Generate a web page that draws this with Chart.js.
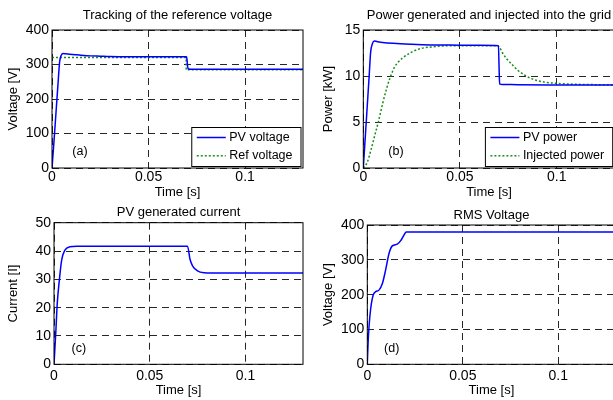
<!DOCTYPE html>
<html lang="en">
<head>
  <meta charset="UTF-8">
  <title>PV system simulation results</title>
  <script src="https://cdn.jsdelivr.net/npm/chart.js"></script>
  <style>
    body {
      margin: 0;
      background: #fff;
      overflow: hidden;
    }
    .figure {
      position: relative;
      width: 613px;
      height: 400px;
      overflow: hidden;
    }
    .figure canvas {
      position: absolute;
    }
  </style>
</head>
<body>
  <div class="figure">
    <canvas id="chartA" width="310" height="200" style="left:0;top:0"></canvas>
    <canvas id="chartB" width="320" height="200" style="left:300px;top:0"></canvas>
    <canvas id="chartC" width="310" height="200" style="left:0;top:200px"></canvas>
    <canvas id="chartD" width="320" height="200" style="left:300px;top:200px"></canvas>
  </div>

  <script>
    // time axis, shared by the four panels
    const xTicks = [0, 0.05, 0.1];
    const xTickLabels = ['0', '0.05', '0.1'];
    const xMax = 0.13;

    // (a) tracking of the reference voltage
    const tPvVoltage = [0, 0.001, 0.002, 0.003, 0.004, 0.0048, 0.0058, 0.007, 0.009, 0.012, 0.015, 0.02, 0.025, 0.03, 0.04, 0.05, 0.06, 0.0697, 0.0700, 0.0703, 0.0707, 0.072, 0.08, 0.1, 0.13];
    const pvVoltage = [0, 75, 155, 235, 310, 327, 332, 331, 330, 328.5, 327, 325, 324, 323, 322.5, 322.5, 322.5, 322.5, 310, 292, 287, 286.5, 286.5, 286.5, 286.5];
    const tRefVoltage = [0, 0.0695, 0.0695, 0.13];
    const refVoltage = [320, 320, 284.5, 284.5];
    const voltageTicks = [0, 100, 200, 300, 400];

    // (b) power generated and injected into the grid, kW
    const tPvPower = [0, 0.001, 0.002, 0.003, 0.0038, 0.0047, 0.0057, 0.007, 0.01, 0.0155, 0.025, 0.035, 0.05, 0.06, 0.0699, 0.0702, 0.0705, 0.072, 0.08, 0.1, 0.13];
    const pvPower = [0, 3.3, 6.6, 9.9, 12.6, 13.5, 13.8, 13.75, 13.65, 13.55, 13.45, 13.38, 13.35, 13.33, 13.3, 11.0, 9.15, 9.08, 9.05, 9.03, 9.02];
    const tInjPower = [0, 0.002, 0.004, 0.006, 0.008, 0.010, 0.012, 0.014, 0.016, 0.018, 0.020, 0.025, 0.030, 0.035, 0.040, 0.050, 0.060, 0.0695, 0.0705, 0.072, 0.074, 0.076, 0.078, 0.080, 0.083, 0.086, 0.090, 0.095, 0.100, 0.110, 0.120, 0.130];
    const injPower = [0, 0.6, 2.0, 3.6, 5.2, 7.0, 8.6, 9.9, 10.9, 11.5, 11.9, 12.6, 13.0, 13.15, 13.25, 13.3, 13.3, 13.3, 13.1, 12.5, 11.9, 11.45, 11.0, 10.6, 10.15, 9.8, 9.5, 9.3, 9.2, 9.1, 9.06, 9.04];
    const powerTicks = [0, 5, 10, 15];

    // (c) PV generated current
    const tCurrent = [0, 0.0005, 0.001, 0.0017, 0.0028, 0.004, 0.0057, 0.0083, 0.012, 0.02, 0.04, 0.06, 0.0697, 0.0710, 0.0724, 0.0749, 0.0784, 0.082, 0.09, 0.1, 0.13];
    const pvCurrent = [0, 6, 12.1, 21.5, 29.8, 36.8, 40.3, 41.5, 41.7, 41.7, 41.7, 41.7, 41.7, 37.1, 34.7, 33.0, 32.3, 32.2, 32.2, 32.2, 32.2];
    const currentTicks = [0, 10, 20, 30, 40, 50];

    // (d) RMS voltage
    const tRms = [0, 0.0004, 0.0009, 0.0018, 0.0031, 0.0044, 0.0061, 0.0079, 0.0096, 0.0114, 0.0131, 0.0157, 0.0175, 0.0192, 0.0204, 0.03, 0.06, 0.1, 0.13];
    const rmsVoltage = [0, 60, 108, 161, 199, 208.5, 213, 232, 271, 319, 340, 345, 355, 371, 380, 380, 380, 380, 380];

    const FONT = '"Liberation Sans", Arial, sans-serif';
    const BLUE = '#0000ff';
    const GREEN = '#1a8c1a';

    const xy = (ts, vs) => ts.map((t, i) => ({x: t, y: vs[i]}));

    // solid box round the plot area, like matlab's "box on"
    const frame = {
      id: 'frame',
      afterDatasetsDraw(chart) {
        const {ctx, chartArea: a} = chart;
        ctx.save();
        ctx.strokeStyle = '#000';
        ctx.lineWidth = 1;
        ctx.strokeRect(a.left, a.top, a.right - a.left, a.bottom - a.top);
        ctx.restore();
      }
    };

    // panel title, (a)/(b)/... tag and the legend box inside the plot
    const annotate = {
      id: 'annotate',
      afterDraw(chart, args, opts) {
        const {ctx, chartArea: a, scales} = chart;
        ctx.save();
        ctx.fillStyle = '#000';
        ctx.textAlign = 'center';
        ctx.textBaseline = 'middle';
        ctx.font = '13px ' + FONT;
        ctx.fillText(opts.title, (a.left + a.right) / 2, a.top - opts.titleGap);

        ctx.font = '12.5px ' + FONT;
        ctx.fillText(opts.tag[0], scales.x.getPixelForValue(opts.tag[1]), scales.y.getPixelForValue(opts.tag[2]));

        if (opts.legend) {
          const sets = chart.data.datasets;
          const textW = Math.max(...sets.map(d => ctx.measureText(d.label).width));
          const w = 46 + textW, h = 39;
          const left = a.right - 2 - w, top = a.bottom - 1.5 - h;
          ctx.fillStyle = '#fff';
          ctx.fillRect(left, top, w, h);
          ctx.strokeStyle = '#000';
          ctx.lineWidth = 1;
          ctx.strokeRect(left, top, w, h);
          sets.forEach((d, i) => {
            const yy = top + 10 + i * 18.3;
            ctx.strokeStyle = d.borderColor;
            ctx.lineWidth = 1.5;
            ctx.setLineDash(d.borderDash || []);
            ctx.beginPath();
            ctx.moveTo(left + 5, yy);
            ctx.lineTo(left + 34, yy);
            ctx.stroke();
            ctx.setLineDash([]);
            ctx.fillStyle = '#000';
            ctx.textAlign = 'left';
            ctx.fillText(d.label, left + 37.5, yy);
          });
        }
        ctx.restore();
      }
    };

    function axes(o) {
      const grid = {color: '#262626', drawTicks: false};
      const border = {display: false, dash: [7, 5]};
      return {
        x: {
          type: 'linear',
          min: 0,
          max: xMax,
          afterBuildTicks: s => { s.ticks = xTicks.map(v => ({value: v})); },
          afterFit: s => { s.height = o.xHeight; },
          grid: grid,
          border: border,
          ticks: {
            callback: (v, i) => xTickLabels[i],
            autoSkip: false, maxRotation: 0,
            padding: o.xPad, color: '#000', font: {family: FONT, size: 14}
          },
          title: {
            display: true, text: 'Time [s]', color: '#000',
            font: {family: FONT, size: 13}, padding: {top: 0, bottom: o.xTitlePad}
          }
        },
        y: {
          min: o.yTicks[0],
          max: o.yTicks[o.yTicks.length - 1],
          afterBuildTicks: s => { s.ticks = o.yTicks.map(v => ({value: v})); },
          afterFit: s => { s.width = o.yWidth; },
          grid: grid,
          border: border,
          ticks: {
            callback: (v, i) => String(o.yTicks[i]),
            autoSkip: false,
            padding: 3, color: '#000', font: {family: FONT, size: 14}
          },
          title: {
            display: true, text: o.yTitle, color: '#000',
            font: {family: FONT, size: 13}, padding: {top: 5.5, bottom: 0}
          }
        }
      };
    }

    function panel(id, datasets, ax, pad, notes) {
      new Chart(document.getElementById(id), {
        type: 'line',
        data: {datasets: datasets},
        options: {
          responsive: false,
          animation: false,
          layout: {padding: pad},
          elements: {point: {radius: 0}},
          scales: axes(ax),
          plugins: {
            legend: {display: false},
            tooltip: {enabled: false},
            annotate: notes
          }
        },
        plugins: [frame, annotate]
      });
    }

    const curve = (label, data, color, dash) => ({
      label: label,
      data: data,
      borderColor: color,
      borderWidth: 1.5,
      borderDash: dash,
      cubicInterpolationMode: 'monotone',
      fill: false
    });

    panel('chartA', [
      curve('PV voltage', xy(tPvVoltage, pvVoltage), BLUE),
      Object.assign(curve('Ref voltage', xy(tRefVoltage, refVoltage), GREEN, [2, 2]), {cubicInterpolationMode: 'default', tension: 0})
    ], {
      xHeight: 32, xPad: 1, xTitlePad: 0, yWidth: 52, yTicks: voltageTicks, yTitle: 'Voltage [V]'
    }, {left: 0, top: 30, right: 7, bottom: 0}, {
      title: 'Tracking of the reference voltage', titleGap: 14.3, tag: ['(a)', 0.0145, 47], legend: true
    });

    panel('chartB', [
      curve('PV power', xy(tPvPower, pvPower), BLUE),
      curve('Injected power', xy(tInjPower, injPower), GREEN, [2, 2])
    ], {
      xHeight: 32, xPad: 1, xTitlePad: 0, yWidth: 48.3, yTicks: powerTicks, yTitle: 'Power [kW]'
    }, {left: 15, top: 30, right: 5.3, bottom: 0}, {
      title: 'Power generated and injected into the grid', titleGap: 14.3, tag: ['(b)', 0.0169, 1.77], legend: true
    });

    panel('chartC', [
      curve('PV current', xy(tCurrent, pvCurrent), BLUE)
    ], {
      xHeight: 35.7, xPad: 3, xTitlePad: 2.2, yWidth: 54, yTicks: currentTicks, yTitle: 'Current [I]'
    }, {left: 0, top: 22.7, right: 7, bottom: 0}, {
      title: 'PV generated current', titleGap: 10, tag: ['(c)', 0.013, 5.65], legend: false
    });

    panel('chartD', [
      curve('RMS voltage', xy(tRms, rmsVoltage), BLUE)
    ], {
      xHeight: 35.7, xPad: 3, xTitlePad: 1.5, yWidth: 52.3, yTicks: voltageTicks, yTitle: 'Voltage [V]'
    }, {left: 15, top: 25, right: 4.4, bottom: 0}, {
      title: 'RMS Voltage', titleGap: 10, tag: ['(d)', 0.0128, 46], legend: false
    });
  </script>
</body>
</html>
